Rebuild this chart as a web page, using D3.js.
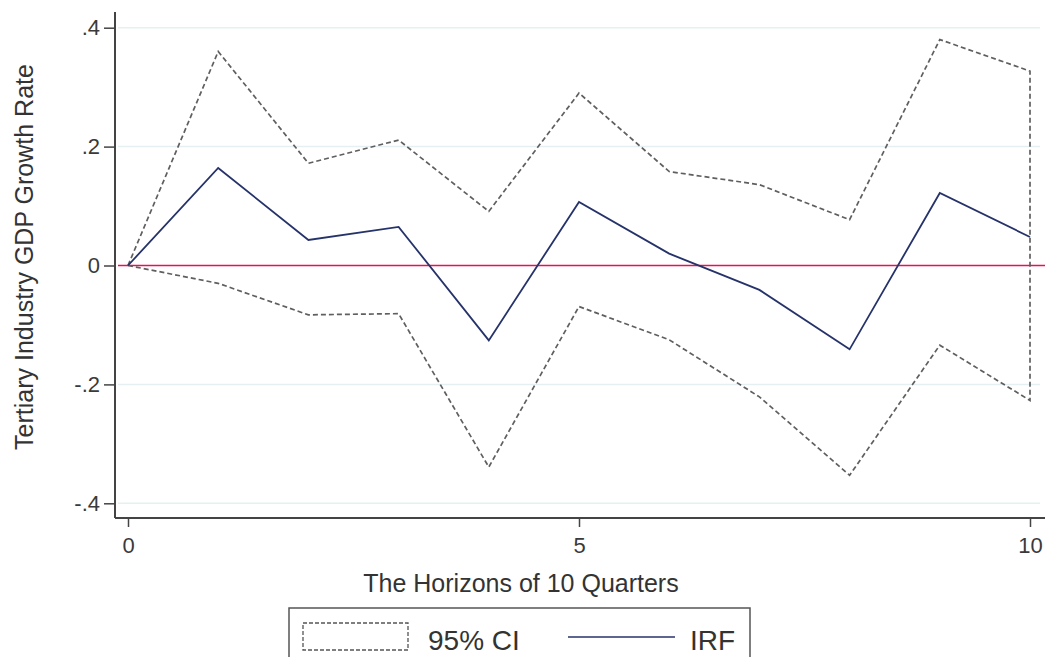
<!DOCTYPE html>
<html>
<head>
<meta charset="utf-8">
<script src="https://cdn.jsdelivr.net/npm/d3@7"></script>
<style>
  html, body { margin: 0; padding: 0; background: #ffffff; }
  svg { display: block; font-family: "Liberation Sans", Arial, sans-serif; }
</style>
</head>
<body>
<svg id="chart" width="1047" height="657"></svg>
<script>
// Impulse response of tertiary industry GDP growth over 10 quarters
const horizons = [0, 1, 2, 3, 4, 5, 6, 7, 8, 9, 10];
const irf      = [0, 0.164, 0.043, 0.065, -0.126, 0.107, 0.020, -0.041, -0.141, 0.122, 0.048];
const ciUpper  = [0, 0.360, 0.172, 0.211, 0.091, 0.290, 0.158, 0.136, 0.077, 0.380, 0.327];
const ciLower  = [0, -0.030, -0.083, -0.081, -0.339, -0.069, -0.125, -0.221, -0.353, -0.134, -0.227];
const yTicks = [-0.4, -0.2, 0, 0.2, 0.4];
const xTicks = [0, 5, 10];
const legendLabels = ["95% CI", "IRF"];

const svg = d3.select("#chart");

const x = d3.scaleLinear().domain([0, 10]).range([128, 1030]);
const y = d3.scaleLinear().domain([-0.4, 0.4]).range([503.3, 27.7]);

const plotLeft = 115, plotRight = 1045, plotTop = 12, plotBottom = 518;

// Stata-style labels: ".4", "-.2", "0"
const fmt = v => v === 0 ? "0" : (v < 0 ? "-" : "") + d3.format(".1f")(Math.abs(v)).replace(/^0/, "");

// horizontal grid lines
svg.append("g")
  .selectAll("line")
  .data(yTicks.filter(v => v !== 0))
  .join("line")
  .attr("x1", plotLeft + 3).attr("x2", plotRight - 5)
  .attr("y1", d => y(d)).attr("y2", d => y(d))
  .attr("stroke", "#e6eff2").attr("stroke-width", 1.5);

// zero reference line
svg.append("line")
  .attr("x1", plotLeft + 3).attr("x2", plotRight)
  .attr("y1", y(0)).attr("y2", y(0))
  .attr("stroke", "#e5115a").attr("stroke-width", 1.6);

// confidence band outline
const band = d3.area()
  .x((d, i) => x(horizons[i]))
  .y0((d, i) => y(ciLower[i]))
  .y1((d, i) => y(ciUpper[i]));

svg.append("path")
  .datum(horizons)
  .attr("d", band)
  .attr("fill", "none")
  .attr("stroke", "#5f5f5f")
  .attr("stroke-width", 1.7)
  .attr("stroke-dasharray", "5,3");

// IRF line
const irfLine = d3.line()
  .x((d, i) => x(horizons[i]))
  .y(d => y(d));

svg.append("path")
  .datum(irf)
  .attr("d", irfLine)
  .attr("fill", "none")
  .attr("stroke", "#26336a")
  .attr("stroke-width", 1.8);

// axes
const yAxis = d3.axisLeft(y).tickValues(yTicks).tickFormat(fmt).tickSize(11).tickPadding(4);
const gy = svg.append("g").attr("transform", `translate(${plotLeft},0)`).call(yAxis);
gy.select(".domain").attr("d", `M0,${plotTop}V${plotBottom}`);

const xAxis = d3.axisBottom(x).tickValues(xTicks).tickSize(9).tickPadding(10);
const gx = svg.append("g").attr("transform", `translate(0,${plotBottom})`).call(xAxis);
gx.select(".domain").attr("d", `M${plotLeft},0H${plotRight}`);

[gx, gy].forEach(g => {
  g.attr("font-family", null).attr("font-size", null);
  g.select(".domain").attr("stroke", "#444").attr("stroke-width", 2);
  g.selectAll(".tick line").attr("stroke", "#444").attr("stroke-width", 1.5);
  g.selectAll(".tick text").attr("fill", "#3a3a3a").style("font-size", "22px");
});

// axis titles
svg.append("text")
  .attr("x", 521).attr("y", 592)
  .attr("text-anchor", "middle")
  .attr("fill", "#333")
  .style("font-size", "25px")
  .text("The Horizons of 10 Quarters");

svg.append("text")
  .attr("transform", "translate(33,257) rotate(-90)")
  .attr("text-anchor", "middle")
  .attr("fill", "#333")
  .style("font-size", "25px")
  .text("Tertiary Industry GDP Growth Rate");

// legend
const lg = svg.append("g");
lg.append("rect")
  .attr("x", 289).attr("y", 608).attr("width", 461).attr("height", 70)
  .attr("fill", "#fff").attr("stroke", "#555").attr("stroke-width", 1.5);
lg.append("rect")
  .attr("x", 303).attr("y", 623).attr("width", 105).attr("height", 27)
  .attr("fill", "#fff").attr("stroke", "#555").attr("stroke-width", 1.3)
  .attr("stroke-dasharray", "4,2");
lg.append("text")
  .attr("x", 428).attr("y", 650)
  .attr("fill", "#333").style("font-size", "28px")
  .text(legendLabels[0]);
lg.append("line")
  .attr("x1", 568).attr("x2", 675).attr("y1", 637).attr("y2", 637)
  .attr("stroke", "#26336a").attr("stroke-width", 1.6);
lg.append("text")
  .attr("x", 690).attr("y", 650)
  .attr("fill", "#333").style("font-size", "28px")
  .text(legendLabels[1]);
</script>
</body>
</html>
